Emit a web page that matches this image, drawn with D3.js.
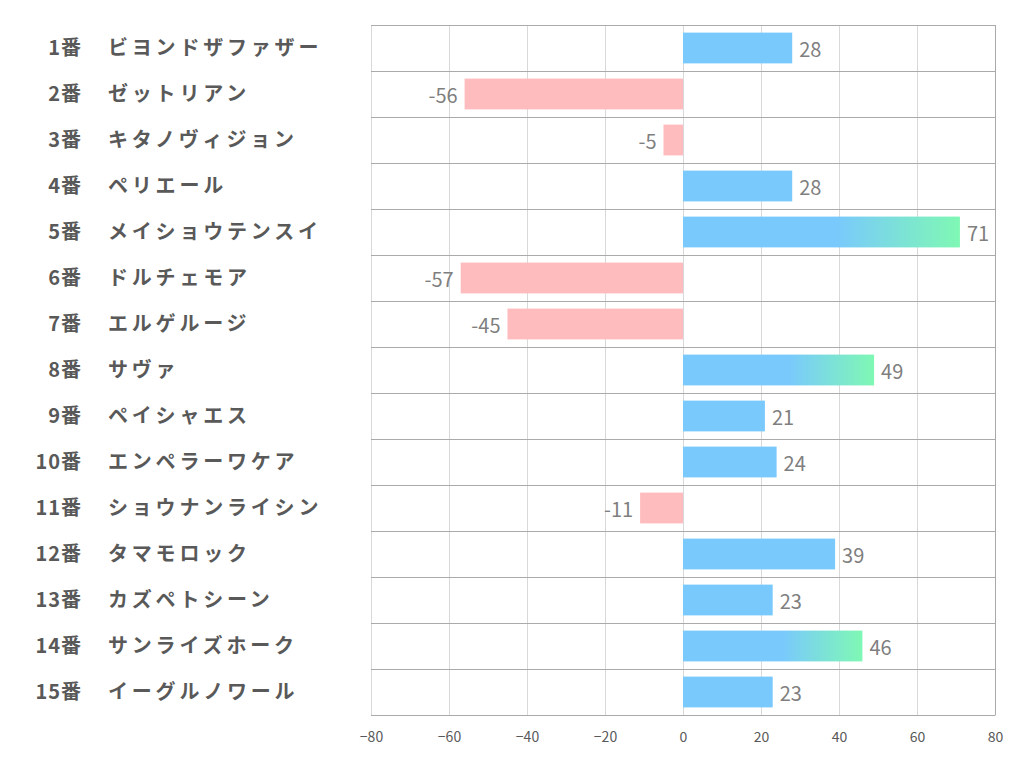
<!DOCTYPE html>
<html><head><meta charset="utf-8">
<script src="https://cdn.jsdelivr.net/npm/d3@7"></script>
<style>body{margin:0;background:#fff;} text{font-family:"Noto Sans CJK JP","Noto Sans",sans-serif;}</style>
</head><body><svg id="c" width="1022" height="782"></svg>
<script>
const numbers = ["1番","2番","3番","4番","5番","6番","7番","8番","9番","10番","11番","12番","13番","14番","15番"];
const names = ["ビヨンドザファザー","ゼットリアン","キタノヴィジョン","ペリエール","メイショウテンスイ","ドルチェモア","エルゲルージ","サヴァ","ペイシャエス","エンペラーワケア","ショウナンライシン","タマモロック","カズペトシーン","サンライズホーク","イーグルノワール"];
const values = [28,-56,-5,28,71,-57,-45,49,21,24,-11,39,23,46,23];
const ticks = [-80,-60,-40,-20,0,20,40,60,80];

const svg = d3.select("#c");
const L=371,R=995,T=25,B=715;
const x = d3.scaleLinear().domain([-80,80]).range([L,R]);
const y = d3.scaleBand().domain(d3.range(values.length)).range([T,B]).paddingInner(0.33).paddingOuter(0.165);

const defs = svg.append("defs");
const grad = defs.append("linearGradient").attr("id","g").attr("x1","0").attr("x2","1").attr("y1","0").attr("y2","0");
grad.append("stop").attr("offset","0.55").attr("stop-color","#79c9fd");
grad.append("stop").attr("offset","1").attr("stop-color","#7ff8b4");

svg.append("g").selectAll("line").data(ticks).join("line")
 .attr("x1",d=>x(d)+0.5).attr("x2",d=>x(d)+0.5).attr("y1",T).attr("y2",B)
 .attr("stroke","#d9d9d9").attr("stroke-width",1);
const rowB = d3.range(values.length+1).map(i=>T+i*(B-T)/values.length);
svg.append("g").selectAll("line").data(rowB).join("line")
 .attr("x1",L).attr("x2",R).attr("y1",d=>Math.round(d)+0.5).attr("y2",d=>Math.round(d)+0.5)
 .attr("stroke","#aaaaaa").attr("stroke-width",1);
svg.append("line").attr("x1",R+0.5).attr("x2",R+0.5).attr("y1",T).attr("y2",B).attr("stroke","#aaaaaa");

svg.append("g").selectAll("rect").data(values).join("rect")
 .attr("x",d=>x(Math.min(0,d))).attr("width",d=>Math.abs(x(d)-x(0)))
 .attr("y",(d,i)=>y(i)).attr("height",y.bandwidth())
 .attr("fill",d=>d<0?"#ffbcbf":(d>=40?"url(#g)":"#79c9fd"));

svg.append("g").selectAll("text").data(values).join("text")
 .attr("x",d=>d<0?x(d)-7:x(d)+7).attr("y",(d,i)=>y(i)+y.bandwidth()/2+2)
 .attr("dy","0.36em").attr("text-anchor",d=>d<0?"end":"start")
 .attr("font-size",20).attr("fill","#7f7f7f").text(d=>d);

const rowC = i=>T+(i+0.5)*(B-T)/values.length;
svg.append("g").selectAll("text").data(numbers).join("text")
 .attr("x",82).attr("y",(d,i)=>rowC(i)).attr("dy","0.36em").attr("text-anchor","end")
 .attr("font-size",20).attr("font-weight","bold").attr("fill","#595959")
 .attr("letter-spacing",1).text(d=>d);
svg.append("g").selectAll("text").data(names).join("text")
 .attr("x",108).attr("y",(d,i)=>rowC(i)).attr("dy","0.36em")
 .attr("font-size",20).attr("font-weight","bold").attr("fill","#595959")
 .attr("letter-spacing",3.8).text(d=>d);

const ax = svg.append("g").attr("transform",`translate(0,${B})`)
 .call(d3.axisBottom(x).tickValues(ticks).tickSize(0).tickPadding(17).tickFormat(d3.format("d")));
ax.select(".domain").attr("stroke","#aaaaaa");
ax.selectAll("text").attr("font-size",14).attr("fill","#595959").style("font-family","\"Noto Sans CJK JP\",sans-serif");
</script></body></html>
